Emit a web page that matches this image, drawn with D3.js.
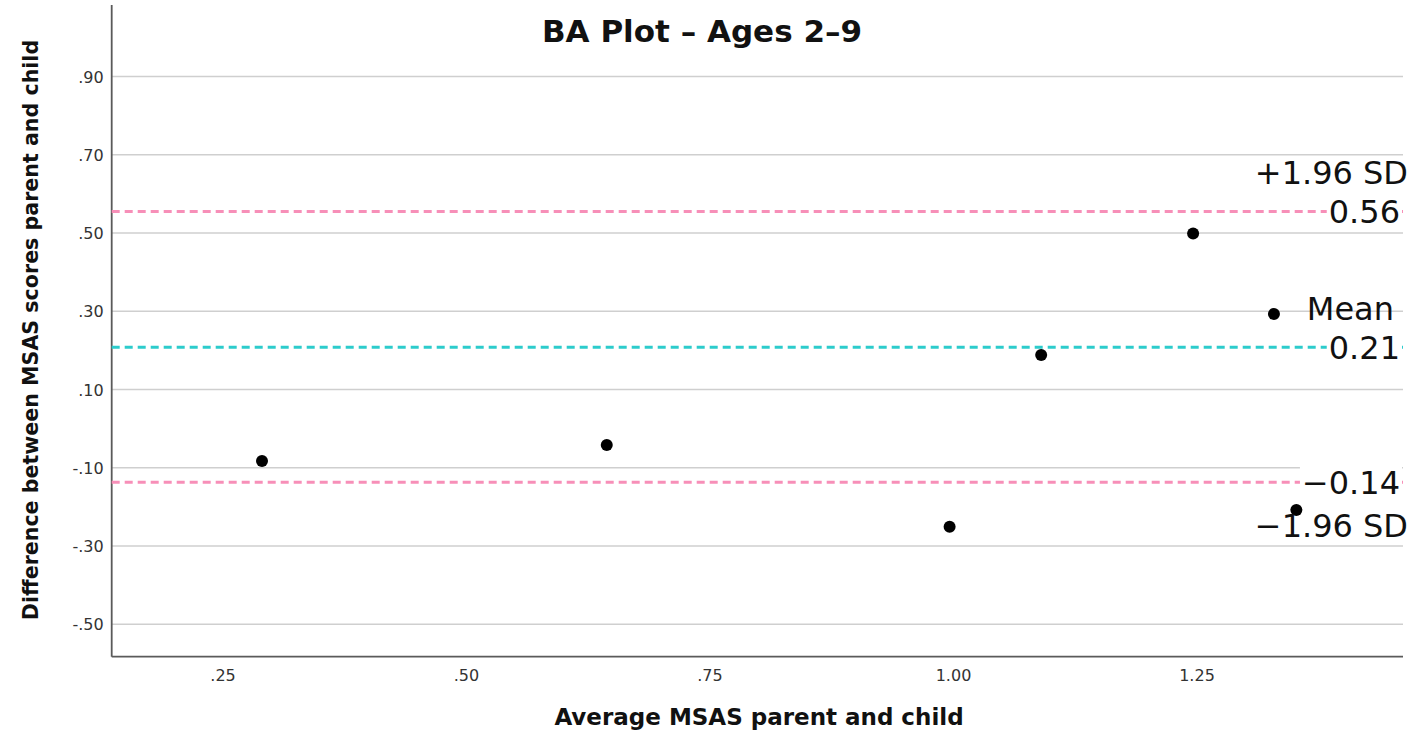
<!DOCTYPE html>
<html>
<head>
<meta charset="utf-8">
<script src="https://cdn.jsdelivr.net/npm/d3@7"></script>
<style>
  body { margin: 0; background: #fff; }
  svg { display: block; }
  .grid line { stroke: #cfcfcf; stroke-width: 1.5; }
  .axisline { stroke: #5a5a5a; stroke-width: 1.8; }
  .tick-label { font-family: "DejaVu Sans", sans-serif; font-size: 16px; fill: #333; }
  .axis-title { font-family: "DejaVu Sans", sans-serif; font-weight: bold; fill: #111; }
  .ref-label { font-family: "DejaVu Sans", sans-serif; font-size: 32px; fill: #111; }
</style>
</head>
<body>
<svg id="chart" width="1416" height="736"></svg>
<script>
// data
var avgScore = [0.29, 0.644, 0.996, 1.09, 1.246, 1.329, 1.352];
var diffScore = [-0.083, -0.042, -0.251, 0.188, 0.499, 0.293, -0.208];
var refNames = ['+1.96 SD', 'Mean', '\u22121.96 SD'];
var refValues = [0.555, 0.208, -0.137];
var refText = ['0.56', '0.21', '\u22120.14'];
var refColors = ['#f78fb8', '#2ccccc', '#f78fb8'];
var yTicks = [-0.5, -0.3, -0.1, 0.1, 0.3, 0.5, 0.7, 0.9];
var xTicks = [0.25, 0.5, 0.75, 1.0, 1.25];

var svg = d3.select('#chart');
var plotLeft = 111.7, plotRight = 1403, plotTop = 5, plotBottom = 656.7;

var x = d3.scaleLinear().domain([0.1357, 1.4615]).range([plotLeft, plotRight]);
var y = d3.scaleLinear().domain([-0.583, 1.083]).range([plotBottom, plotTop]);

// SPSS style: no leading zero, plain hyphen for negatives
function fmt(v) {
    var s = d3.format('.2f')(Math.abs(v)).replace(/^0\./, '.');
    return (v < 0 ? '-' : '') + s;
}

// horizontal gridlines
svg.append('g').attr('class', 'grid')
    .selectAll('line').data(yTicks).enter().append('line')
    .attr('x1', plotLeft).attr('x2', plotRight)
    .attr('y1', function(d) { return y(d); })
    .attr('y2', function(d) { return y(d); });

// y tick labels
svg.append('g').selectAll('text').data(yTicks).enter().append('text')
    .attr('class', 'tick-label')
    .attr('x', plotLeft - 8)
    .attr('y', function(d) { return y(d); })
    .attr('dy', '0.38em')
    .attr('text-anchor', 'end')
    .text(fmt);

// x tick labels
svg.append('g').selectAll('text').data(xTicks).enter().append('text')
    .attr('class', 'tick-label')
    .attr('x', function(d) { return x(d); })
    .attr('y', plotBottom + 24)
    .attr('text-anchor', 'middle')
    .text(fmt);

// axis lines
svg.append('line').attr('class', 'axisline')
    .attr('x1', plotLeft).attr('x2', plotLeft).attr('y1', plotTop).attr('y2', plotBottom);
svg.append('line').attr('class', 'axisline')
    .attr('x1', plotLeft).attr('x2', plotRight).attr('y1', plotBottom).attr('y2', plotBottom);

// reference lines (limits of agreement + mean)
svg.append('g').selectAll('line').data(refValues).enter().append('line')
    .attr('x1', plotLeft).attr('x2', plotRight)
    .attr('y1', function(d) { return y(d); })
    .attr('y2', function(d) { return y(d); })
    .attr('stroke', function(d, i) { return refColors[i]; })
    .attr('stroke-width', 3)
    .attr('stroke-dasharray', '8,5');

// points
svg.append('g').selectAll('circle').data(avgScore).enter().append('circle')
    .attr('cx', function(d) { return x(d); })
    .attr('cy', function(d, i) { return y(diffScore[i]); })
    .attr('r', 6)
    .attr('fill', '#000');

// value labels with white box behind
var valG = svg.append('g');
refValues.forEach(function(v, i) {
    var g = valG.append('g');
    var t = g.append('text').attr('class', 'ref-label')
        .attr('x', 1400).attr('y', y(v)).attr('dy', '0.36em')
        .attr('text-anchor', 'end').text(refText[i]);
    var b = t.node().getBBox();
    g.insert('rect', 'text')
        .attr('x', b.x - 2).attr('y', b.y + 2)
        .attr('width', b.width + 4).attr('height', b.height - 4)
        .attr('fill', '#fff');
});

// name labels
svg.append('text').attr('class', 'ref-label')
    .attr('x', 1408).attr('y', y(refValues[0]) - 28).attr('text-anchor', 'end').text(refNames[0]);
svg.append('text').attr('class', 'ref-label')
    .attr('x', 1394).attr('y', y(refValues[1]) - 27).attr('text-anchor', 'end').text(refNames[1]);
svg.append('text').attr('class', 'ref-label')
    .attr('x', 1408).attr('y', y(refValues[2]) + 55).attr('text-anchor', 'end').text(refNames[2]);

// title
svg.append('text').attr('class', 'axis-title')
    .attr('x', 702).attr('y', 42).attr('text-anchor', 'middle')
    .style('font-size', '31px')
    .text('BA Plot \u2013 Ages 2\u20139');

// axis titles
svg.append('text').attr('class', 'axis-title')
    .attr('x', 759).attr('y', 725).attr('text-anchor', 'middle')
    .style('font-size', '23px')
    .text('Average MSAS parent and child');

svg.append('text').attr('class', 'axis-title')
    .attr('transform', 'translate(38,330) rotate(-90)')
    .attr('text-anchor', 'middle')
    .style('font-size', '20.6px')
    .text('Difference between MSAS scores parent and child');
</script>
</body>
</html>
